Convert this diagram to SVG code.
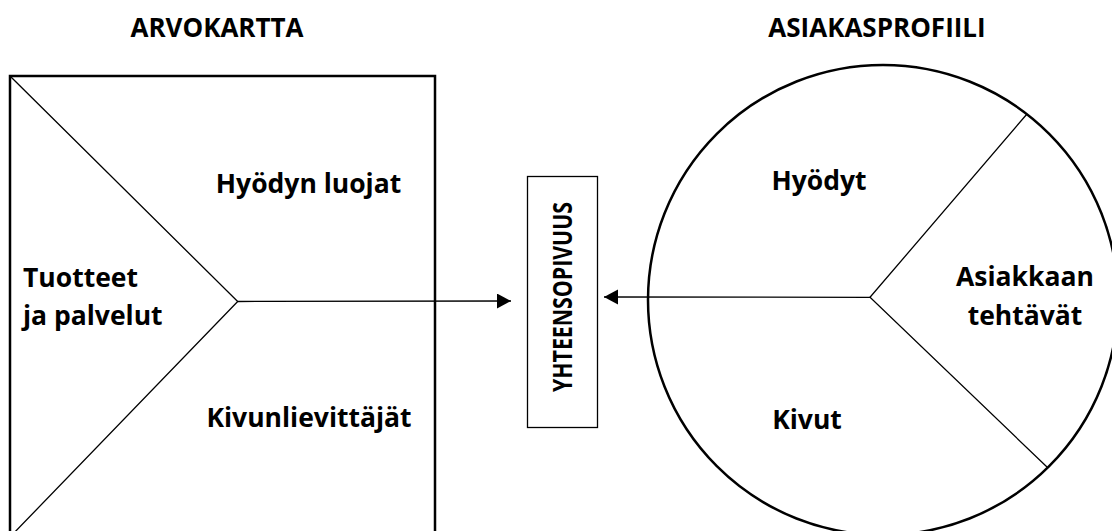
<svg xmlns="http://www.w3.org/2000/svg" width="1112" height="531" viewBox="0 0 1112 531">
  <style>
    .t { font-family: "Open Sans", "Liberation Sans", sans-serif; font-weight: bold; fill: #000; font-size: 26.5px; }
    .title { font-size: 26px; }
    .thick { fill: none; stroke: #000; stroke-width: 2.5; }
    .thin { fill: none; stroke: #000; stroke-width: 1.3; }
    .conn { fill: none; stroke: #000; stroke-width: 1.3; }
  </style>
  <defs>
    <marker id="arrow" markerUnits="userSpaceOnUse" markerWidth="15" markerHeight="16" refX="14" refY="7.5" orient="auto">
      <path d="M0,0 L14,7.5 L0,15 Z" fill="#000"/>
    </marker>
  </defs>
  <rect width="1112" height="531" fill="#fff"/>

  <g id="titles">
    <text class="t title" x="217" y="37" text-anchor="middle">ARVOKARTTA</text>
    <text class="t title" x="877" y="37" text-anchor="middle">ASIAKASPROFIILI</text>
  </g>

  <g id="arvokartta">
    <rect class="thick" x="10" y="76" width="425" height="470"/>
    <polyline class="thin" points="11,77 237.7,301.5 11,536"/>
    <text class="t" x="308.5" y="193" text-anchor="middle">Hyödyn luojat</text>
    <text class="t" x="23" y="287">Tuotteet</text>
    <text class="t" x="23" y="325">ja palvelut</text>
    <text class="t" x="309" y="427" text-anchor="middle">Kivunlievittäjät</text>
  </g>

  <g id="yhteensopivuus">
    <rect class="thin" x="527.5" y="176.5" width="70" height="251"/>
    <text class="t" transform="translate(572,297) rotate(-90)" text-anchor="middle" font-size="21" textLength="190" lengthAdjust="spacingAndGlyphs">YHTEENSOPIVUUS</text>
  </g>

  <g id="asiakasprofiili">
    <circle class="thick" cx="883" cy="300" r="235"/>
    <polyline class="thin" points="1027,114 870,297.3 1047,467"/>
    <text class="t" x="819" y="190" text-anchor="middle">Hyödyt</text>
    <text class="t" x="1025" y="286" text-anchor="middle">Asiakkaan</text>
    <text class="t" x="1025" y="325" text-anchor="middle">tehtävät</text>
    <text class="t" x="807" y="429" text-anchor="middle">Kivut</text>
  </g>

  <g id="connectors">
    <line class="conn" x1="237.7" y1="301.5" x2="511" y2="301" marker-end="url(#arrow)"/>
    <line class="conn" x1="870" y1="297.3" x2="604" y2="297" marker-end="url(#arrow)"/>
  </g>
</svg>
